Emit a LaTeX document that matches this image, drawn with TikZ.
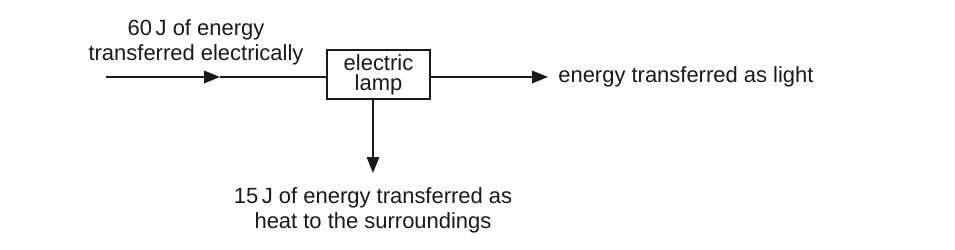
\documentclass[tikz,border=0pt]{standalone}
\usepackage{fontspec}
\setmainfont{Liberation Sans}
\usetikzlibrary{positioning, calc, arrows.meta}

\begin{document}
\begin{tikzpicture}[
    every node/.style={font=\fontsize{12.5}{14.6}\selectfont,text=black!90,inner sep=0pt},
    box/.style={draw=black!90,line width=1.1pt,minimum width=2.06cm,minimum height=0.98cm,
      align=center,font=\fontsize{12.5}{11.5}\selectfont},
    flow/.style={draw=black!90,line width=1.1pt,-{Triangle[length=9pt,width=7pt]}},
    lbl/.style={align=center}
  ]
  \useasboundingbox (0,0) rectangle (19.1,5);
  % lamp and the flows in and out
  \node[box] (lamp) at (7.57,3.51) {electric\\lamp};
  \coordinate (in) at (2.12,3.46);
  \coordinate (inmid) at (4.40,3.46);
  \coordinate (outtip) at (10.96,3.46);
  \coordinate (heattip) at (7.46,1.54);
  \node[lbl,anchor=north] (supply) at (3.92,4.62) {60\,J of energy\\transferred electrically};
  \node[anchor=base west] (light) at (11.16,3.34) {energy transferred as light};
  \node[lbl,anchor=north] (heat) at (7.46,1.26) {15\,J of energy transferred as\\heat to the surroundings};
  \draw[flow] (in) -- (inmid);
  \draw[draw=black!90,line width=1.1pt] (inmid) -- (inmid -| lamp.west);
  \draw[flow] (outtip -| lamp.east) -- (outtip);
  \draw[flow] (heattip |- lamp.south) -- (heattip);
\end{tikzpicture}
\end{document}
